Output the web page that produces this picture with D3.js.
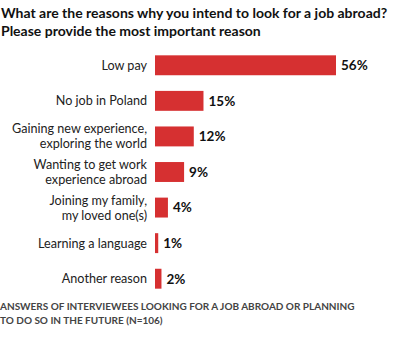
<!DOCTYPE html>
<html>
<head>
<meta charset="utf-8">
<script src="https://cdn.jsdelivr.net/npm/d3@7"></script>
<style>
  html, body { margin: 0; padding: 0; background: #fff; }
  svg { display: block; }
</style>
</head>
<body>
<svg id="chart" width="400" height="346"></svg>
<script>
// Survey answers: most important reason for looking for a job abroad
const categories = [
  ["Low pay"],
  ["No job in Poland"],
  ["Gaining new experience,", "exploring the world"],
  ["Wanting to get work", "experience abroad"],
  ["Joining my family,", "my loved one(s)"],
  ["Learning a language"],
  ["Another reason"]
];
const values = [56, 15, 12, 9, 4, 1, 2];
const titleLines = [
  "What are the reasons why you intend to look for a job abroad?",
  "Please provide the most important reason"
];
const noteLines = [
  "ANSWERS OF INTERVIEWEES LOOKING FOR A JOB ABROAD OR PLANNING",
  "TO DO SO IN THE FUTURE (N=106)"
];

const svg = d3.select("#chart");
const font = "Lato, 'Open Sans', sans-serif";

const x = d3.scaleLinear().domain([0, 56]).range([155, 336]);
const y = d3.scaleBand()
  .domain(d3.range(values.length))
  .range([47.5, 296.5])
  .paddingInner(0.44)
  .paddingOuter(0.22);

// Title
svg.append("g").selectAll("text")
  .data(titleLines)
  .join("text")
  .attr("x", 1)
  .attr("y", (d, i) => 18 + i * 18)
  .attr("font-family", font)
  .attr("font-weight", 700)
  .attr("font-size", 14)
  .attr("fill", "#111")
  .text(d => d);

// Bars
const rows = svg.append("g").selectAll("g")
  .data(values)
  .join("g");

rows.append("rect")
  .attr("x", x(0))
  .attr("y", (d, i) => y(i))
  .attr("width", d => x(d) - x(0))
  .attr("height", y.bandwidth())
  .attr("fill", "#d63031");

// Value labels
rows.append("text")
  .attr("x", d => x(d) + 5)
  .attr("y", (d, i) => y(i) + y.bandwidth() / 2)
  .attr("dy", "0.36em")
  .attr("font-family", font)
  .attr("font-weight", 700)
  .attr("font-size", 13.5)
  .attr("fill", "#111")
  .text(d => d + "%");

// Category labels (one or two lines, right-aligned)
rows.append("text")
  .attr("text-anchor", "end")
  .attr("font-family", font)
  .attr("font-size", 12.6)
  .attr("fill", "#222")
  .each(function (d, i) {
    const lines = categories[i];
    const cy = y(i) + y.bandwidth() / 2;
    const lh = 15;
    const top = cy - (lines.length - 1) * lh / 2;
    d3.select(this).selectAll("tspan")
      .data(lines)
      .join("tspan")
      .attr("x", 147)
      .attr("y", (l, j) => top + j * lh)
      .attr("dy", "0.36em")
      .text(l => l);
  });

// Note
svg.append("g").selectAll("text")
  .data(noteLines)
  .join("text")
  .attr("x", 0)
  .attr("y", (d, i) => 310 + i * 14)
  .attr("font-family", font)
  .attr("font-weight", 700)
  .attr("font-size", 10)
  .attr("fill", "#444")
  .text(d => d);
</script>
</body>
</html>
